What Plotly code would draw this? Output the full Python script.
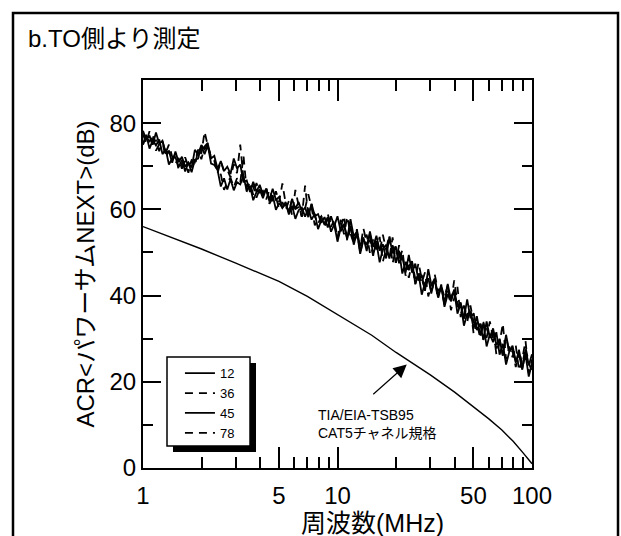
import plotly.graph_objects as go

# Measurement frequencies (MHz)
freq = [1.000, 1.039, 1.080, 1.122, 1.166, 1.212, 1.259, 1.308, 1.359, 1.413,
        1.468, 1.525, 1.585, 1.647, 1.711, 1.778, 1.848, 1.920, 1.995, 2.073,
        2.154, 2.239, 2.326, 2.417, 2.512, 2.610, 2.712, 2.818, 2.929, 3.043,
        3.162, 3.286, 3.415, 3.548, 3.687, 3.831, 3.981, 4.137, 4.299, 4.467,
        4.642, 4.823, 5.012, 5.208, 5.412, 5.623, 5.843, 6.072, 6.310, 6.556,
        6.813, 7.079, 7.356, 7.644, 7.943, 8.254, 8.577, 8.913, 9.261, 9.624,
        10.00, 10.39, 10.80, 11.22, 11.66, 12.12, 12.59, 13.08, 13.59, 14.13,
        14.68, 15.25, 15.85, 16.47, 17.11, 17.78, 18.48, 19.20, 19.95, 20.73,
        21.54, 22.39, 23.26, 24.17, 25.12, 26.10, 27.12, 28.18, 29.29, 30.43,
        31.62, 32.86, 34.15, 35.48, 36.87, 38.31, 39.81, 41.37, 42.99, 44.67,
        46.42, 48.23, 50.12, 52.08, 54.12, 56.23, 58.43, 60.72, 63.10, 65.56,
        68.13, 70.79, 73.56, 76.44, 79.43, 82.54, 85.77, 89.13, 92.61, 96.24,
        100.0]

# ACR <power-sum NEXT> (dB) per pair
acr_12 = [78.2, 76.2, 77.1, 75.0, 77.8, 75.2, 75.9, 73.1, 73.5, 70.8,
          73.4, 70.9, 72.2, 69.9, 70.9, 69.7, 73.8, 72.7, 74.9, 73.9,
          75.2, 71.8, 72.4, 69.4, 71.2, 68.9, 69.9, 68.2, 71.8, 69.5,
          70.4, 66.4, 66.7, 64.0, 66.4, 64.1, 65.7, 63.5, 64.7, 62.2,
          64.8, 62.2, 62.9, 60.4, 61.2, 59.3, 62.4, 60.1, 61.7, 59.5,
          60.4, 58.2, 61.3, 58.4, 58.9, 56.9, 58.2, 55.8, 58.4, 56.1,
          58.4, 54.9, 56.4, 53.1, 57.7, 53.7, 54.9, 51.5, 53.5, 50.3,
          54.9, 51.3, 53.9, 50.4, 51.9, 48.6, 53.6, 49.8, 51.4, 47.5,
          49.0, 45.3, 49.4, 45.3, 47.4, 43.5, 44.8, 41.1, 46.1, 42.3,
          43.9, 40.2, 41.8, 38.3, 42.7, 39.0, 41.4, 37.4, 38.4, 34.6,
          39.1, 34.8, 35.9, 32.0, 33.5, 29.8, 34.0, 30.2, 32.4, 28.5,
          29.8, 26.1, 30.9, 27.0, 28.4, 24.7, 26.3, 22.8, 27.4, 23.8,
          26.4]

acr_36 = [77.4, 75.4, 78.1, 75.9, 76.0, 73.5, 75.8, 73.1, 75.0, 72.2,
          70.6, 71.9, 69.4, 72.1, 69.9, 71.2, 70.0, 73.8, 72.9, 78.0,
          74.7, 72.1, 71.4, 68.4, 71.1, 68.8, 69.2, 67.4, 70.5, 68.4,
          75.0, 67.2, 65.1, 66.1, 63.4, 66.1, 63.9, 64.3, 62.3, 64.5,
          61.9, 64.2, 61.7, 66.0, 61.4, 59.4, 62.4, 60.1, 60.5, 58.3,
          65.5, 58.6, 61.2, 58.4, 56.6, 58.4, 56.4, 58.9, 56.4, 56.7,
          53.4, 57.6, 54.2, 58.3, 54.4, 52.1, 54.3, 50.9, 55.6, 52.2,
          52.8, 49.2, 53.4, 50.1, 54.1, 50.6, 48.6, 53.5, 47.6, 51.7,
          47.9, 48.1, 44.1, 47.7, 43.9, 47.6, 43.8, 41.4, 44.0, 40.4,
          44.9, 41.2, 41.6, 37.9, 41.9, 38.4, 43.5, 38.3, 35.7, 37.8,
          33.8, 37.7, 33.7, 33.9, 30.1, 33.9, 30.2, 34.0, 30.1, 27.7,
          30.0, 26.1, 30.4, 26.7, 27.1, 23.4, 27.4, 23.9, 28.0, 24.4,
          22.4]

acr_45 = [75.1, 77.3, 74.1, 76.0, 74.8, 76.2, 72.8, 74.0, 70.4, 71.8,
          72.1, 69.8, 71.5, 68.8, 70.8, 68.6, 71.5, 71.8, 74.7, 72.8,
          74.8, 70.6, 70.3, 69.1, 65.3, 67.2, 64.6, 67.0, 64.4, 66.3,
          65.8, 67.7, 64.3, 65.5, 62.1, 64.0, 64.6, 62.6, 64.8, 61.8,
          63.3, 59.9, 61.5, 60.3, 61.7, 58.8, 60.8, 57.8, 59.8, 60.4,
          58.3, 60.2, 57.6, 59.0, 55.4, 57.5, 56.8, 58.2, 54.8, 56.5,
          52.5, 55.7, 56.6, 53.4, 56.2, 51.8, 54.6, 49.7, 53.0, 51.7,
          54.4, 49.4, 52.3, 47.7, 50.8, 51.8, 48.6, 51.7, 47.6, 50.4,
          45.1, 47.8, 45.9, 48.0, 42.6, 45.1, 40.2, 43.0, 44.0, 40.7,
          43.9, 39.6, 42.6, 37.4, 40.3, 38.7, 41.2, 35.8, 38.1, 33.0,
          35.7, 36.1, 32.4, 35.2, 30.8, 33.6, 28.2, 31.0, 29.2, 31.5,
          26.3, 28.8, 24.0, 27.0, 27.8, 24.4, 27.4, 23.1, 26.3, 21.2,
          24.3]

acr_78 = [75.0, 77.2, 75.6, 77.4, 73.6, 75.1, 75.4, 72.2, 73.5, 71.4,
          72.9, 69.1, 70.6, 71.1, 68.5, 71.4, 70.9, 73.9, 71.6, 74.6,
          75.4, 71.5, 71.2, 68.9, 68.1, 64.5, 66.3, 67.3, 65.2, 67.2,
          66.1, 72.5, 64.1, 65.3, 65.4, 62.7, 64.7, 63.2, 65.2, 61.3,
          62.6, 62.9, 60.0, 61.7, 59.9, 61.9, 58.6, 64.5, 60.9, 58.3,
          60.2, 63.5, 60.4, 56.3, 57.6, 58.4, 56.0, 57.7, 55.9, 57.6,
          53.1, 56.0, 58.5, 52.7, 55.5, 52.9, 55.4, 49.9, 53.0, 54.1,
          49.9, 53.0, 50.7, 53.6, 47.9, 50.8, 54.0, 47.5, 50.7, 48.0,
          50.6, 44.6, 47.0, 47.4, 42.7, 45.5, 42.9, 45.4, 39.8, 42.6,
          43.6, 39.2, 42.2, 39.7, 42.4, 36.6, 39.3, 42.0, 35.0, 37.7,
          34.9, 37.2, 31.1, 33.6, 34.3, 29.7, 32.5, 29.9, 32.4, 26.4,
          29.0, 33.5, 25.2, 28.2, 25.7, 28.4, 22.6, 25.3, 29.5, 22.0,
          25.2]

# TIA/EIA-TSB95 CAT5 channel limit
cat5_freq = [1, 1.5, 2, 3, 4, 5, 7, 10, 15, 20, 25, 30, 40, 50, 60, 70, 80, 90, 100]
cat5_acr = [56.0, 53.0, 50.8, 47.5, 45.2, 43.3, 39.8, 35.6, 30.8, 26.8,
            24.0, 21.6, 17.6, 14.3, 11.4, 8.8, 6.2, 3.5, 1.0]

pair_names = ["12", "36", "45", "78"]
pair_series = [acr_12, acr_36, acr_45, acr_78]
pair_dash = ["solid", "8px,6px", "solid", "8px,6px"]

x_tickvals = [1, 5, 10, 50, 100]
x_ticktext = ["1", "5", "10", "50", "100"]
x_minorvals = [2, 3, 4, 6, 7, 8, 9, 20, 30, 40, 60, 70, 80, 90]
y_tickvals = [0, 20, 40, 60, 80]
y_minorvals = [10, 30, 50, 70]

FONT = "Arial, 'Liberation Sans', 'Noto Sans CJK JP', sans-serif"

fig = go.Figure()

for name, vals, dash in zip(pair_names, pair_series, pair_dash):
    fig.add_trace(go.Scatter(
        x=freq, y=vals, mode="lines", name=name,
        line=dict(color="black", width=1.8, dash=dash),
    ))

fig.add_trace(go.Scatter(
    x=cat5_freq, y=cat5_acr, mode="lines", name="CAT5",
    line=dict(color="black", width=1.4), showlegend=False,
))

shapes = [
    # legend frame with drop shadow
    dict(type="rect", xref="paper", yref="paper", x0=0.0771, x1=0.2905,
         y0=0.0412, y1=0.2706, fillcolor="black", line=dict(width=0),
         opacity=1, layer="above"),
    dict(type="rect", xref="paper", yref="paper", x0=0.0617, x1=0.2751,
         y0=0.0567, y1=0.2861, fillcolor="white",
         line=dict(color="black", width=1.5), opacity=1, layer="above"),
    # outer panel border
    dict(type="rect", xref="paper", yref="paper", x0=-0.3342, x1=1.2211,
         y0=-0.3, y1=1.1727, line=dict(color="black", width=2.5),
         fillcolor="rgba(0,0,0,0)", opacity=1, layer="below"),
]

annotations = [
    dict(text="b.TO側より測定", xref="paper", yref="paper", x=-0.3008, y=1.1082,
         xanchor="left", yanchor="middle", showarrow=False,
         font=dict(size=24, color="black", family=FONT)),
    dict(text="TIA/EIA-TSB95<br>CAT5チャネル規格", xref="paper", yref="paper",
         x=0.4447, y=0.113, xanchor="left", yanchor="middle", align="left",
         showarrow=False, font=dict(size=14, color="black", family=FONT)),
    dict(text="", x=1.356, y=24.0, xref="x", yref="y", showarrow=True,
         ax=-35, ay=31, arrowhead=2, arrowsize=2.2, arrowwidth=1.2,
         arrowcolor="black"),
    dict(text="周波数(MHz)", xref="paper", yref="paper", x=0.589, y=-0.142,
         xanchor="center", yanchor="middle", showarrow=False,
         font=dict(size=25, color="black", family=FONT)),
]

TICKS = dict(ticks="inside", tickwidth=2.2, tickcolor="black",
             showline=True, linecolor="black", linewidth=2, mirror="ticks",
             showgrid=False, zeroline=False, layer="above traces")

fig.update_layout(
    template="none",
    width=621, height=536,
    margin=dict(l=143, r=89, t=80, b=68),
    paper_bgcolor="white", plot_bgcolor="white",
    font=dict(family=FONT, color="black", size=24),
    shapes=shapes, annotations=annotations,
    showlegend=True,
    legend=dict(x=0.095, y=0.283, xanchor="left", yanchor="top",
                bgcolor="rgba(0,0,0,0)", borderwidth=0,
                font=dict(size=13, family=FONT, color="black"),
                tracegroupgap=0),
    xaxis=dict(
        type="log", range=[0, 2],
        tickmode="array", tickvals=x_tickvals, ticktext=x_ticktext,
        ticklen=21, **TICKS,
        minor=dict(tickmode="array", tickvals=x_minorvals, ticks="inside",
                   ticklen=11, tickwidth=2.2, tickcolor="black",
                   showgrid=False),
        ticklabelstandoff=5,
        tickfont=dict(size=24, family=FONT),
    ),
    yaxis=dict(
        range=[0, 90],
        tickmode="array", tickvals=y_tickvals,
        ticklen=18, **TICKS,
        minor=dict(tickmode="array", tickvals=y_minorvals, ticks="inside",
                   ticklen=10, tickwidth=2.2, tickcolor="black",
                   showgrid=False),
        tickfont=dict(size=24, family=FONT),
        title=dict(text="ACR<パワーサムNEXT>(dB)",
                   font=dict(size=24, family=FONT), standoff=8),
    ),
)

fig.write_html("out.html", config={"displayModeBar": False})
